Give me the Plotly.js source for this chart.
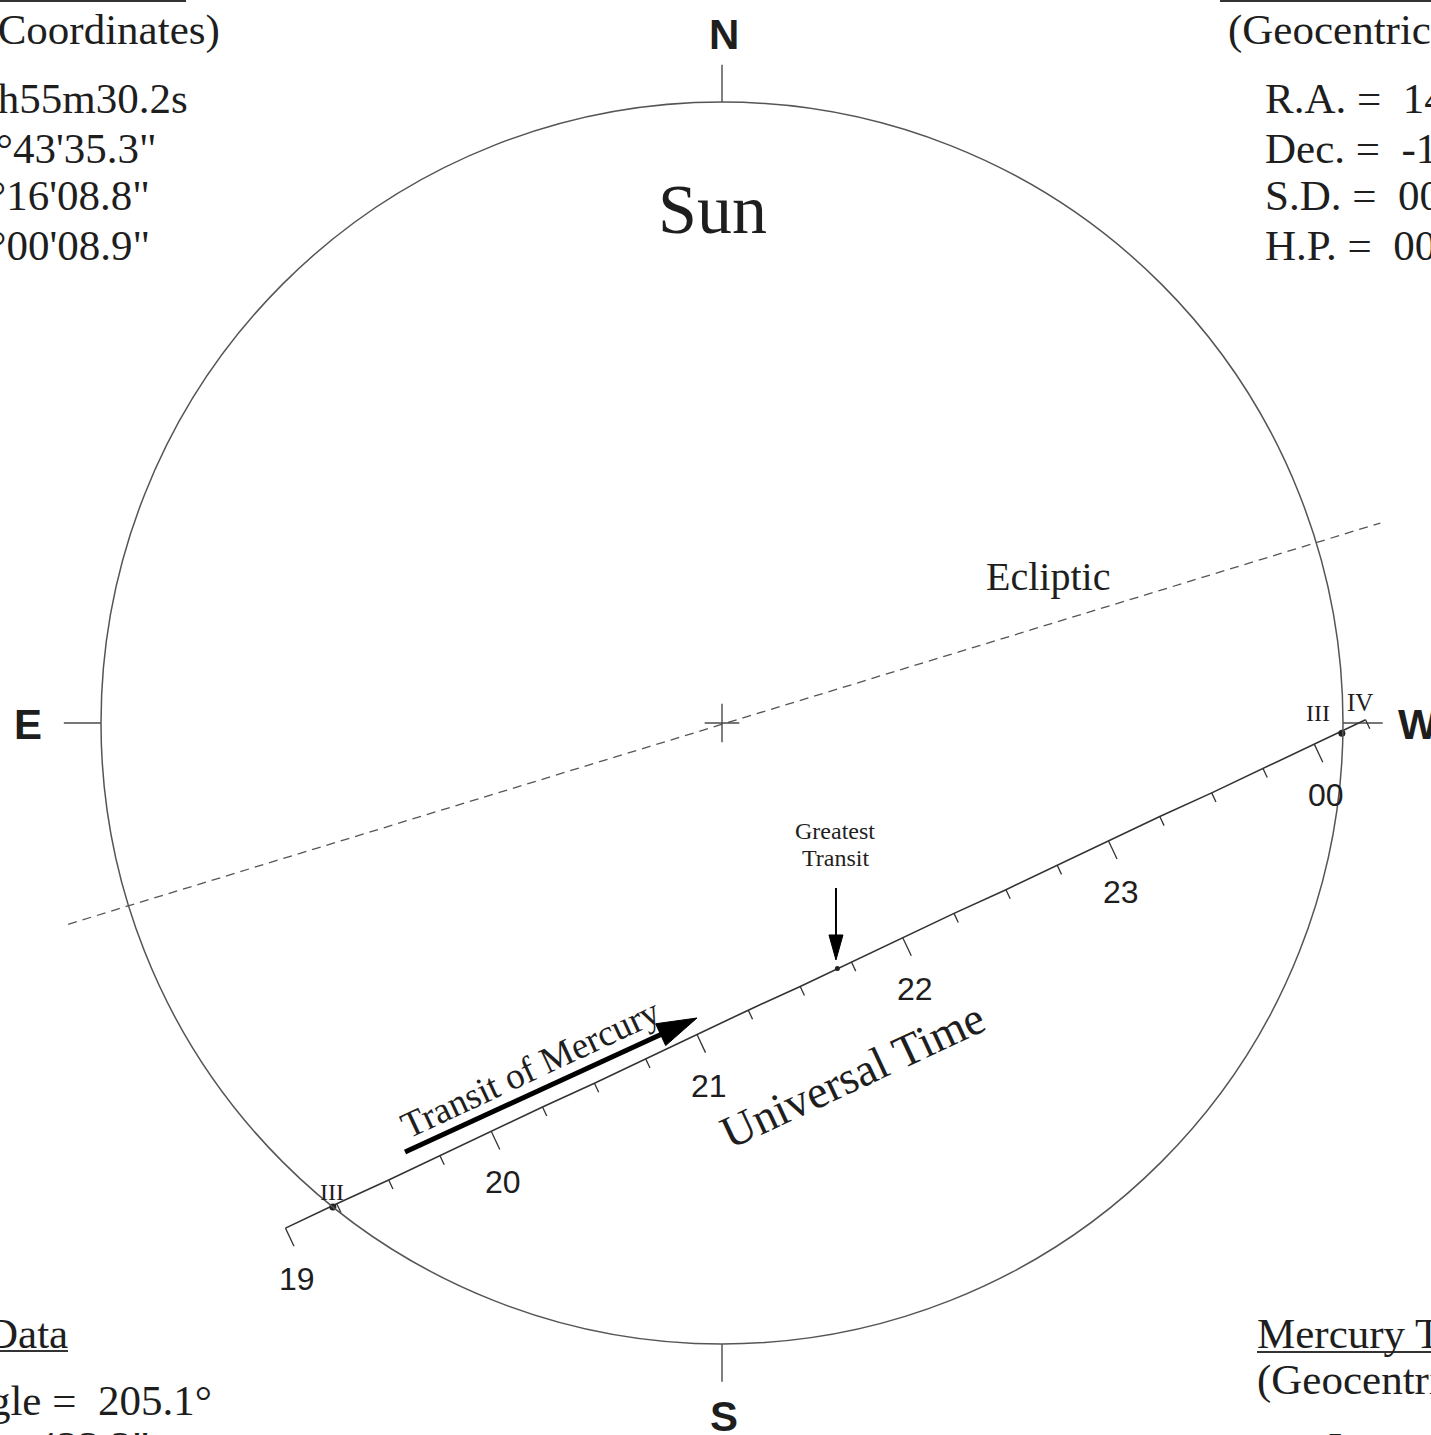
<!DOCTYPE html>
<html><head><meta charset="utf-8">
<script src="https://cdn.plot.ly/plotly-3.0.1.min.js"></script>
<style>html,body{margin:0;padding:0;background:#fff;}</style>
</head><body><div id="chart" style="width:1431px;height:1435px;"></div>
<script>
// ---- Data (arcsec relative to Sun centre; +x = west, +y = north) ----
const sunSD = 968.8;                       // Sun semi-diameter 16'08.8"
const tickUT = ["19:00","19:15","19:30","19:45","20:00","20:15","20:30","20:45","21:00","21:15","21:30","21:45",
                "22:00","22:15","22:30","22:45","23:00","23:15","23:30","23:45","00:00","00:15"];
const tickX = [-681,-601,-520,-440,-360,-280,-199,-119,-39,41,122,202,282,362,443,523,603,683,764,844,924,1004];
const tickY = [-788,-750,-713,-675,-637,-599,-562,-524,-486,-448,-411,-373,-335,-297,-260,-222,-184,-146,-109,-71,-33,5];
const hourLabels = ["19","20","21","22","23","00"];
const contactX = [-607, 967];
const contactY = [-755, -16];
const greatestX = [180];
const greatestY = [-383];
const eclipticX = [-1020, 1027];
const eclipticY = [-314, 312];
const transitArrowX = [-494.5, -39.0];
const transitArrowY = [-669.3, -460.2];
const greatestArrowX = [177.8, 177.8];
const greatestArrowY = [-257.4, -369.7];
const compassLabels = ["N","E","S","W"];

// ---- geometry helpers ----
const s = 621 / sunSD;              // px per arcsec
const px2d = (px, py) => [(px - 722) / s, (723 - py) / s];
const P = (px, py) => [px / 1431, 1 - py / 1435];
const SERIF = "Liberation Serif, Times New Roman, serif";
const SANS = "Liberation Sans, Arial, sans-serif";
const INK = "#1e1e1e", LINE = "#4a4a4a";

const traces = [];
// ecliptic
traces.push({x: eclipticX, y: eclipticY, mode: "lines", line: {color: "#555", width: 1.3, dash: "9px,6px"}, hoverinfo: "skip"});
// compass ticks
const cT = [[0, sunSD, 0, sunSD + 58], [-sunSD, 0, -sunSD - 58, 0], [0, -sunSD, 0, -sunSD - 59], [sunSD, 0, sunSD + 62, 0]];
const cx = [], cy = [];
cT.forEach(t => { cx.push(t[0], t[2], null); cy.push(t[1], t[3], null); });
// centre cross
cx.push(-27, 27, null, 0, 0, null); cy.push(0, 0, null, -30, 30, null);
traces.push({x: cx, y: cy, mode: "lines", line: {color: LINE, width: 1.4}, hoverinfo: "skip"});
// transit path
traces.push({x: tickX, y: tickY, mode: "lines", line: {color: "#333", width: 1.6}, hoverinfo: "skip"});
// ticks perpendicular to the path
const n = tickX.length;
const dxp = tickX[n - 1] - tickX[0], dyp = tickY[n - 1] - tickY[0];
const L = Math.hypot(dxp, dyp);
const ux = dxp / L, uy = dyp / L;
const px_ = uy, py_ = -ux;   // perpendicular toward lower right
const tx = [], ty = [];
tickUT.forEach((t, i) => {
  const major = t.endsWith(":00");
  const len = (major ? 20 : 10) / s;
  tx.push(tickX[i], tickX[i] + px_ * len, null);
  ty.push(tickY[i], tickY[i] + py_ * len, null);
});
traces.push({x: tx, y: ty, mode: "lines", line: {color: "#333", width: 1.3}, hoverinfo: "skip"});
// Mercury at contacts and greatest transit
traces.push({x: contactX, y: contactY, mode: "markers", marker: {size: 7, color: "#222"}, hoverinfo: "skip"});
traces.push({x: greatestX, y: greatestY, mode: "markers", marker: {size: 5, color: "#222"}, hoverinfo: "skip"});

// arrows
function arrow(xs, ys, width, headLenPx, headHalfPx) {
  const dx = xs[1] - xs[0], dy = ys[1] - ys[0];
  const l = Math.hypot(dx, dy), ax = dx / l, ay = dy / l;
  const hl = headLenPx / s, hw = headHalfPx / s;
  const bx = xs[1] - ax * hl, by = ys[1] - ay * hl;
  return [
    {type: "line", xref: "x", yref: "y", x0: xs[0], y0: ys[0], x1: bx + ax * 2 / s, y1: by + ay * 2 / s, line: {color: "#000", width: width}},
    {type: "path", xref: "x", yref: "y",
     path: `M${xs[1]},${ys[1]} L${bx - ay * hw},${by + ax * hw} L${bx + ay * hw},${by - ax * hw} Z`,
     fillcolor: "#000", line: {color: "#000", width: 1}}
  ];
}

const shapes = [
  {type: "circle", xref: "x", yref: "y", x0: -sunSD, y0: -sunSD, x1: sunSD, y1: sunSD, line: {color: "#555", width: 1.5}},
  ...arrow(transitArrowX, transitArrowY, 5, 40, 12),
  ...arrow(greatestArrowX, greatestArrowY, 2, 25, 7),
];
// underlines for corner titles
function uline(x0, x1, y) {
  const a = P(x0, y), b = P(x1, y);
  return {type: "line", xref: "paper", yref: "paper", x0: a[0], y0: a[1], x1: b[0], y1: b[1], line: {color: "#333", width: 2}};
}
shapes.push(uline(0, 186, 1), uline(1220, 1431, 1), uline(0, 68, 1351), uline(1257, 1431, 1352));

const annotations = [];
function tD(text, pxy, size, font, extra) {
  const d = px2d(pxy[0], pxy[1]);
  annotations.push(Object.assign({x: d[0], y: d[1], xref: "x", yref: "y", text: text, showarrow: false,
    font: {family: font, size: size, color: INK}, xanchor: "center", yanchor: "middle"}, extra || {}));
}
function tP(text, px, py, size, xanchor) {
  const p = P(px, py);
  annotations.push({x: p[0], y: p[1], xref: "paper", yref: "paper", text: text, showarrow: false,
    font: {family: SERIF, size: size, color: INK}, xanchor: xanchor, yanchor: "middle"});
}
// compass labels
[[724, 34], [28, 724], [724, 1416], [1418, 724]].forEach((p, i) =>
  tD("<b>" + compassLabels[i] + "</b>", p, 42, SANS));
tD("Sun", [712, 209], 70, SERIF);
tD("Ecliptic", [1048, 576], 40, SERIF);
tD("Universal Time", [852, 1075], 46, SERIF, {textangle: -25});
tD("Transit of Mercury", [530, 1068], 37, SERIF, {textangle: -25});
tD("Greatest", [835, 831], 24, SERIF);
tD("Transit", [835, 858], 24, SERIF);
tD("III", [1318, 713], 24, SERIF);
tD("IV", [1360, 702], 25, SERIF);
tD("I", [324, 1192], 24, SERIF);
tD("II", [336, 1192], 24, SERIF);
// hour labels
tickUT.forEach((t, i) => {
  if (!t.endsWith(":00")) return;
  annotations.push({x: tickX[i], y: tickY[i], xref: "x", yref: "y", text: hourLabels[i / 4], showarrow: false,
    xshift: 12, yshift: -51, font: {family: SANS, size: 32, color: INK}, xanchor: "center", yanchor: "middle"});
});
// corner blocks (clipped by page edge)
const CF = 43;
tP("(Geocentric Coordinates)", 222, 30, CF, "right");
tP("R.A. =&nbsp; 14h55m30.2s", 190, 98, CF, "right");
tP("Dec. =&nbsp; -16°43'35.3\"", 159, 148, CF, "right");
tP("S.D. =&nbsp; 00°16'08.8\"", 152, 195, CF, "right");
tP("H.P. =&nbsp; 00°00'08.9\"", 152, 245, CF, "right");
tP("(Geocentric Coordinates)", 1226, 30, CF, "left");
tP("R.A. =&nbsp; 14h55m08.7s", 1263, 98, CF, "left");
tP("Dec. =&nbsp; -17°05'52.1\"", 1263, 148, CF, "left");
tP("S.D. =&nbsp; 00°00'04.9\"", 1263, 195, CF, "left");
tP("H.P. =&nbsp; 00°00'12.8\"", 1263, 245, CF, "left");
tP("Transit Data", 70, 1333, CF, "right");
tP("Position Angle =&nbsp; 205.1°", 214, 1400, CF, "right");
tP("Separation =&nbsp; 423.2\"", 152, 1446, CF, "right");
tP("Mercury Transit Contacts", 1255, 1333, CF, "left");
tP("(Geocentric Coordinates)", 1255, 1380, CF, "left");
tP("I", 1326, 1447, CF, "left");

const layout = {
  width: 1431, height: 1435, margin: {l: 0, r: 0, t: 0, b: 0},
  paper_bgcolor: "#fff", plot_bgcolor: "#fff", showlegend: false,
  xaxis: {range: [-722 / s, 709 / s], visible: false, fixedrange: true},
  yaxis: {range: [-712 / s, 723 / s], visible: false, fixedrange: true},
  shapes: shapes, annotations: annotations
};
Plotly.newPlot("chart", traces, layout, {displayModeBar: false, staticPlot: true});
</script></body></html>
